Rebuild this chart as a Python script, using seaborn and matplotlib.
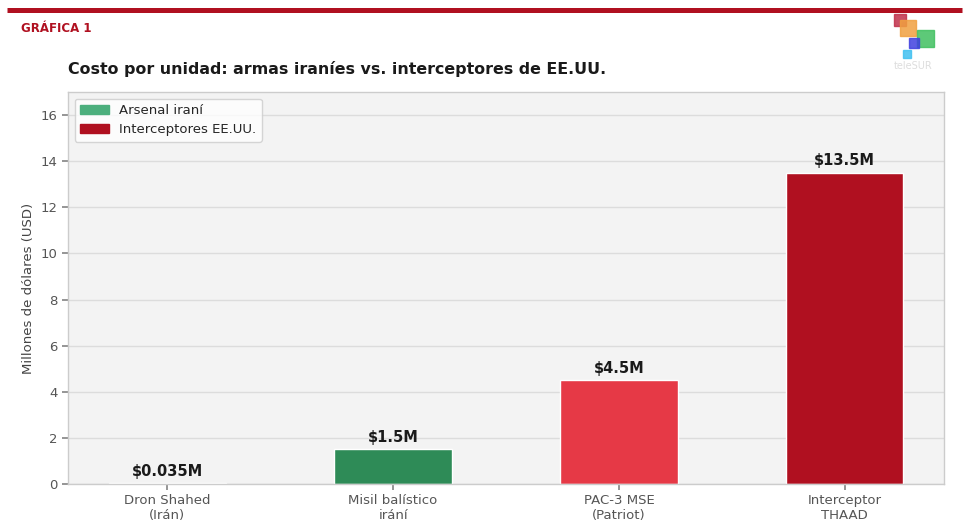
import matplotlib
matplotlib.use("Agg")
import matplotlib.pyplot as plt
import matplotlib.patches as mpatches
import seaborn as sns
import pandas as pd

categories = ["Dron Shahed\n(Irán)", "Misil balístico\nirání", "PAC-3 MSE\n(Patriot)", "Interceptor\nTHAAD"]
costs = [0.035, 1.5, 4.5, 13.5]
labels = ["$0.035M", "$1.5M", "$4.5M", "$13.5M"]
bar_colors = ["#e8f5ee", "#2e8b57", "#e63946", "#b01020"]
legend_names = ["Arsenal iraní", "Interceptores EE.UU."]
legend_colors = ["#4caf7d", "#b01020"]

df = pd.DataFrame({"arma": categories, "costo": costs})

sns.set_theme(style="whitegrid")
plt.rcParams["font.family"] = ["DejaVu Sans"]

fig = plt.figure(figsize=(9.68, 5.29), dpi=100)
ax = fig.add_axes([68 / 968, 1 - 484 / 529, 876 / 968, 392 / 529])
ax.set_facecolor("#f3f3f3")

sns.barplot(data=df, x="arma", y="costo", hue="arma", palette=bar_colors,
            saturation=1, width=0.52, edgecolor="white", linewidth=1,
            legend=False, ax=ax)

for i, (v, lab) in enumerate(zip(costs, labels)):
    ax.text(i, v + 0.2, lab, ha="center", va="bottom", fontsize=10.5,
            fontweight="bold", color="#1a1a1a")

ax.set_xlim(-0.44, 3.44)
ax.set_ylim(0, 17)
ax.set_yticks(range(0, 17, 2))
ax.grid(axis="y", color="#dcdcdc", linewidth=1)
ax.grid(axis="x", visible=False)
ax.set_axisbelow(True)
ax.set_xlabel("")
ax.set_ylabel("Millones de dólares (USD)", fontsize=9.5, color="#444444")
ax.tick_params(axis="both", labelsize=9.5, colors="#555555", length=4)
ax.tick_params(axis="x", bottom=True, color="#888888")
ax.tick_params(axis="y", left=True, color="#888888")
for s in ax.spines.values():
    s.set_color("#cccccc")
    s.set_linewidth(1)

handles = [mpatches.Patch(color=c, label=n) for n, c in zip(legend_names, legend_colors)]
ax.legend(handles=handles, loc="upper left", fontsize=9.5, frameon=True,
          facecolor="white", edgecolor="#cccccc", handlelength=2.2)

# header
fig.add_artist(plt.Line2D([7 / 968, 962 / 968], [1 - 9.5 / 529, 1 - 9.5 / 529],
                          color="#b01020", linewidth=3.6, solid_capstyle="butt"))
fig.text(21 / 968, 1 - 28 / 529, "GRÁFICA 1", color="#b01020", fontsize=8.5,
         fontweight="bold", va="center")
fig.text(68 / 968, 1 - 69 / 529, "Costo por unidad: armas iraníes vs. interceptores de EE.UU.",
         fontsize=11.4, fontweight="bold", color="#1a1a1a", va="center")

# small logo
for x0, y0, w, c in [(894, 14, 12, "#c0304a"), (900, 20, 16, "#f0a040"),
                     (917, 30, 17, "#40c060"), (909, 38, 10, "#4040e0"),
                     (903, 50, 8, "#40c0f0")]:
    fig.add_artist(mpatches.Rectangle((x0 / 968, 1 - (y0 + w) / 529), w / 968, w / 529,
                                      color=c, alpha=0.85, transform=fig.transFigure))
fig.text(913 / 968, 1 - 66 / 529, "teleSUR", fontsize=7, color="#dddddd",
         ha="center", va="center")

fig.savefig("out.png", dpi=100)
